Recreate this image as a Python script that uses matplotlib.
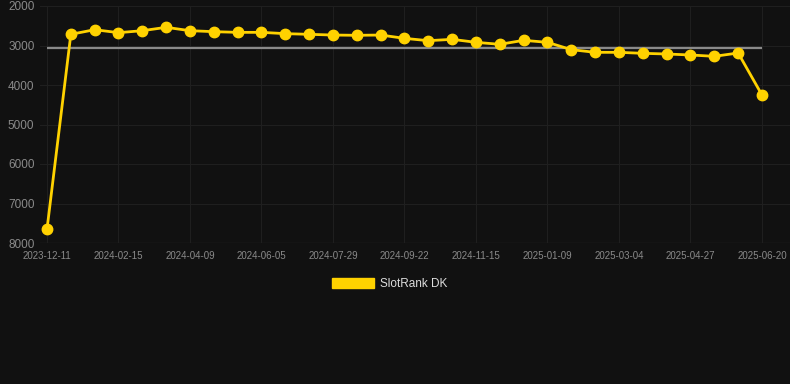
import numpy as np
import matplotlib
matplotlib.use('Agg')
import matplotlib.pyplot as plt
from matplotlib.patches import Rectangle

#chart data (rank, lower is better)
tick_labels = ['2023-12-11', '2024-02-15', '2024-04-09', '2024-06-05', '2024-07-29',
               '2024-09-22', '2024-11-15', '2025-01-09', '2025-03-04', '2025-04-27',
               '2025-06-20']
rank = [7650, 2717, 2600, 2675, 2625, 2540, 2625, 2650, 2667, 2667,
        2700, 2717, 2735, 2742, 2735, 2819, 2878, 2844, 2920, 2970,
        2869, 2920, 3105, 3173, 3173, 3198, 3215, 3240, 3274, 3190,
        4253]
series_name = 'SlotRank DK'

BG = '#111111'
GOLD = '#FFD200'

plt.rcParams['font.family'] = ['Liberation Sans', 'DejaVu Sans']

fig = plt.figure(figsize=(7.9, 3.84), dpi=100, facecolor=BG)
ax = fig.add_axes([40 / 790, 1 - 243 / 384, 750 / 790, 237 / 384])
ax.set_facecolor(BG)

x = np.arange(len(rank))
avg = np.mean(rank)

#average line
ax.hlines(avg, x[0], x[-1], color='#8a8a8a', linewidth=1.6, zorder=2)

#main series
ax.plot(x, rank, color=GOLD, linewidth=2.0, marker='o', markersize=7.5,
        markerfacecolor=GOLD, markeredgecolor=GOLD, zorder=3, label=series_name)

ax.set_ylim(8000, 2000)
ax.set_yticks([2000, 3000, 4000, 5000, 6000, 7000, 8000])
step = 23.833
ax.set_xlim(-7 / step, (790 - 47) / step)
ax.set_xticks(x[::3])
ax.set_xticklabels(tick_labels)

ax.grid(True, color='#1f1f1f', linewidth=0.8, zorder=0)
for s in ax.spines.values():
    s.set_visible(False)
ax.axhline(8000, color='#2c2c2c', linewidth=0.9, zorder=1)

ax.tick_params(axis='both', length=0, colors='#8a8a8a')
ax.tick_params(axis='y', labelsize=8.5, pad=4)
ax.tick_params(axis='x', labelsize=7, pad=6)

#legend shown as a filled box
h = Rectangle((0, 0), 1, 1, facecolor=GOLD, edgecolor=GOLD)
fig.legend([h], [series_name], loc='center', bbox_to_anchor=(0.493, 1 - 284 / 384),
           frameon=False, handlelength=3.6, handleheight=1.0, fontsize=8.5,
           labelcolor='#dddddd', handletextpad=0.5)

fig.savefig('out.png', dpi=100, facecolor=BG)
